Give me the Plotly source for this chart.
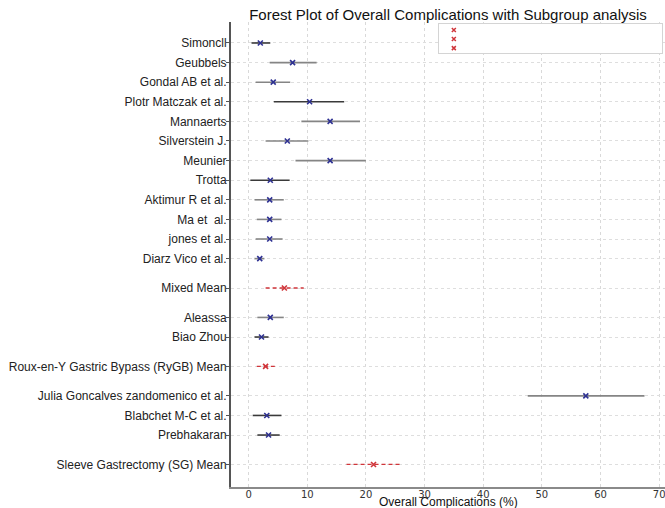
import plotly.graph_objects as go

# ---- data -------------------------------------------------------------
labels = [
    "Simoncll", "Geubbels", "Gondal AB et al.", "Plotr Matczak et al.",
    "Mannaerts", "Silverstein J.", "Meunier", "Trotta", "Aktimur R et al.",
    "Ma et  al.", "jones et al.", "Diarz Vico et al.", "Mixed Mean",
    "Aleassa", "Biao Zhou", "Roux-en-Y Gastric Bypass (RyGB) Mean",
    "Julia Goncalves zandomenico et al.", "Blabchet M-C et al.", "Prebhakaran",
    "Sleeve Gastrectomy (SG) Mean",
]
estimate = [2.0, 7.5, 4.2, 10.4, 13.9, 6.6, 13.9, 3.7, 3.6, 3.6, 3.6, 1.9,
            6.1, 3.7, 2.2, 2.9, 57.5, 3.1, 3.4, 21.3]
ci_low = [0.5, 3.6, 1.2, 4.3, 9.0, 2.9, 8.0, 0.3, 1.0, 1.4, 1.2, 1.0,
          2.9, 1.5, 1.0, 1.4, 47.6, 0.7, 1.5, 16.7]
ci_high = [3.7, 11.6, 7.1, 16.3, 19.0, 10.2, 20.0, 7.0, 6.0, 5.6, 5.8, 2.7,
           9.4, 6.0, 3.4, 4.6, 67.5, 5.6, 5.3, 26.0]
is_mean = [False] * 12 + [True] + [False, False, True, False, False, False, True]
dark_line = [True, False, False, True, False, False, False, True, False, False,
             False, False, False, False, True, False, False, True, True, False]
x_ticks = [0, 10, 20, 30, 40, 50, 60, 70]

# ---- row layout: extra spacing before each subgroup mean / new group ----
row_gap = [0, 1, 1, 1, 1, 1, 1, 1, 1, 1, 1, 1, 1.5,
           1.5, 1, 1.5, 1.5, 1, 1, 1.5]
rows = []
acc = 0.0
for g in row_gap:
    acc += g
    rows.append(acc)

NAVY = "#2e3192"
RED = "#d0353a"
DARK = "#3a3a3a"
GRAY = "#858585"

fig = go.Figure()


def segments(mask):
    xs, ys = [], []
    for i, m in enumerate(mask):
        if m:
            xs += [ci_low[i], ci_high[i], None]
            ys += [rows[i], rows[i], None]
    return xs, ys


# confidence intervals of individual studies
for flag, col in ((True, DARK), (False, GRAY)):
    xs, ys = segments([(not is_mean[i]) and dark_line[i] == flag
                       for i in range(len(labels))])
    fig.add_trace(go.Scatter(x=xs, y=ys, mode="lines",
                             line=dict(color=col, width=1.6),
                             hoverinfo="skip", showlegend=False))

# confidence intervals of subgroup means (dashed red)
xs, ys = segments(is_mean)
fig.add_trace(go.Scatter(x=xs, y=ys, mode="lines",
                         line=dict(color=RED, width=1.3, dash="4px,3px"),
                         hoverinfo="skip", showlegend=False))

# point estimates
study_idx = [i for i in range(len(labels)) if not is_mean[i]]
mean_idx = [i for i in range(len(labels)) if is_mean[i]]
fig.add_trace(go.Scatter(
    x=[estimate[i] for i in study_idx], y=[rows[i] for i in study_idx],
    mode="markers",
    marker=dict(symbol="x-thin", size=5, line=dict(color=NAVY, width=1.6)),
    showlegend=False))
fig.add_trace(go.Scatter(
    x=[estimate[i] for i in mean_idx], y=[rows[i] for i in mean_idx],
    mode="markers",
    marker=dict(symbol="x-thin", size=5, line=dict(color=RED, width=1.6)),
    showlegend=False))

# compact key box holding one marker per subgroup mean
fig.add_trace(go.Scatter(
    x=[0.067] * len(mean_idx), y=list(range(len(mean_idx))),
    xaxis="x2", yaxis="y2", mode="markers",
    marker=dict(symbol="x-thin", size=4, line=dict(color=RED, width=1.5)),
    hoverinfo="skip", showlegend=False))

fig.update_layout(
    width=665, height=508,
    margin=dict(l=231, r=0, t=22, b=21),
    paper_bgcolor="white", plot_bgcolor="white",
    font=dict(family="Liberation Sans, Arial, sans-serif", color="#222"),
    title=dict(text="Forest Plot of Overall Complications with Subgroup analysis",
               x=0.5, xref="paper", xanchor="center",
               y=1 - 15 / 508, yref="container", yanchor="middle",
               font=dict(size=15, color="#111")),
    xaxis=dict(range=[-3, 71], tickvals=x_ticks, ticks="",
               ticklabeloverflow="allow", ticklabelstandoff=-3,
               showgrid=True, gridcolor="#d9d9d9", griddash="dot", gridwidth=1,
               zeroline=False, showline=True, linecolor="#8a8a8a", linewidth=1.5,
               tickfont=dict(family="DejaVu Sans", size=10, color="#333")),
    yaxis=dict(range=[22.65, -1.07], tickvals=rows, ticktext=labels,
               ticks="outside", ticklen=3, tickcolor="#555", tickwidth=1,
               ticklabelstandoff=-3,
               showgrid=True, gridcolor="#dedede", griddash="dot", gridwidth=1,
               zeroline=False, showline=True, linecolor="#555", linewidth=2,
               tickfont=dict(size=12, color="#222")),
    xaxis2=dict(domain=[0.479, 0.993], range=[0, 1], anchor="y2",
                showline=True, mirror=True, linecolor="#d4d4d4", linewidth=1,
                showgrid=False, zeroline=False, showticklabels=False, ticks=""),
    yaxis2=dict(domain=[0.933, 0.996], range=[2.556, -0.667], anchor="x2",
                showline=True, mirror=True, linecolor="#d4d4d4", linewidth=1,
                showgrid=False, zeroline=False, showticklabels=False, ticks=""),
    annotations=[dict(text="Overall Complications (%)", xref="paper", yref="paper",
                      x=0.5, y=0, xanchor="center", yanchor="top", yshift=-6,
                      showarrow=False, font=dict(size=12, color="#111"))],
)

fig.write_html("out.html")
